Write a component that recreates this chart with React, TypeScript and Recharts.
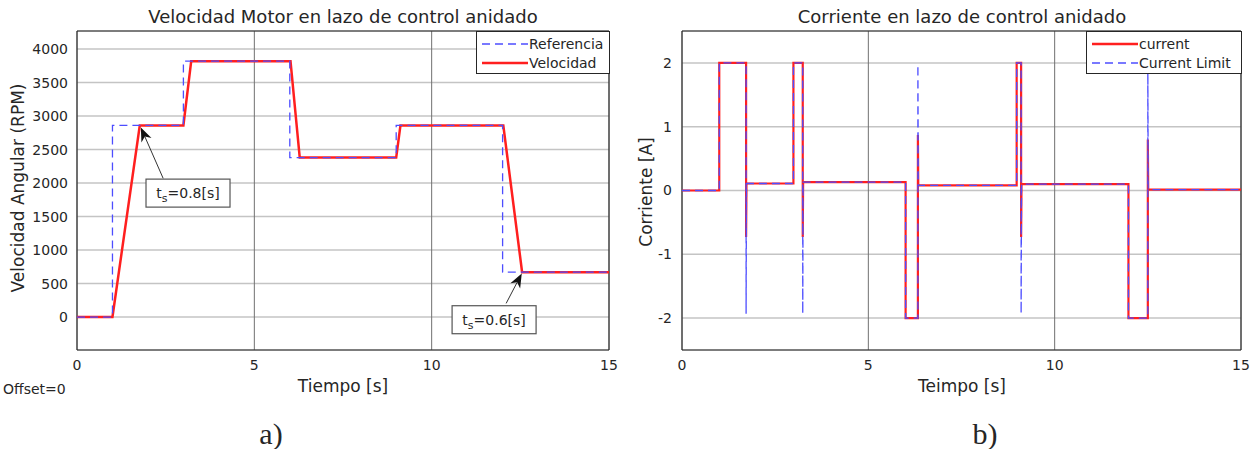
import {
  LineChart, Line, XAxis, YAxis, CartesianGrid, ReferenceArea, ReferenceLine, ReferenceDot,
} from 'recharts';

// shared time axis
const timeTicks = [0, 5, 10, 15];

// a) speed loop
const rpmTicks = [0, 500, 1000, 1500, 2000, 2500, 3000, 3500, 4000];
const refTime = [0, 1, 1, 3, 3, 6, 6, 9, 9, 12, 12, 15];
const refRpm = [0, 0, 2860, 2860, 3820, 3820, 2380, 2380, 2860, 2860, 670, 670];
const velTime = [0, 1, 1.77, 3, 3.22, 6.02, 6.28, 9, 9.12, 12.02, 12.55, 15];
const velRpm = [0, 0, 2860, 2860, 3820, 3820, 2380, 2380, 2860, 2860, 670, 670];

// b) current loop
const ampTicks = [-2, -1, 0, 1, 2];
const curTime = [
  0, 1, 1, 1.72, 1.72, 1.73, 2.99, 2.99, 3.24, 3.24, 3.25, 6, 6, 6.33, 6.33, 6.34,
  8.98, 8.98, 9.1, 9.1, 9.11, 11.98, 11.98, 12.5, 12.5, 12.51, 15,
];
const curAmp = [
  0, 0, 2, 2, -0.73, 0.11, 0.11, 2, 2, -0.73, 0.13, 0.13, -2, -2, 0.87, 0.08,
  0.08, 2, 2, -0.73, 0.1, 0.1, -2, -2, 0.8, 0.015, 0.015,
];
const limAmp = [
  0, 0, 2, 2, -1.93, 0.11, 0.11, 2, 2, -1.93, 0.13, 0.13, -2, -2, 1.97, 0.08,
  0.08, 2, 2, -1.93, 0.1, 0.1, -2, -2, 1.96, 0.015, 0.015,
];

const zip = (t: number[], v: number[]) => t.map((x, i) => ({ t: x, v: v[i] }));

const RED = '#ff1f1f';
const BLUE = '#4d4dff';
const INK = '#262626';
const FONT = '"DejaVu Sans", sans-serif';
const tickStyle = { fill: INK, fontSize: 14, fontFamily: FONT };

function Arrow(p: any) {
  const { x1, y1, x2, y2 } = p;
  const dx = x2 - x1, dy = y2 - y1;
  const len = Math.hypot(dx, dy) || 1;
  const ux = dx / len, uy = dy / len, nx = -uy, ny = ux;
  const bx = x2 - ux * 14, by = y2 - uy * 14;
  const mx = x2 - ux * 10, my = y2 - uy * 10;
  return (
    <g>
      <line x1={x1} y1={y1} x2={mx} y2={my} stroke="#333" strokeWidth={1} />
      <polygon
        points={`${x2},${y2} ${bx + nx * 5.5},${by + ny * 5.5} ${mx},${my} ${bx - nx * 5.5},${by - ny * 5.5}`}
        fill="#111"
      />
    </g>
  );
}

function NoteBox({ cx, cy, text }: { cx: number; cy: number; text: string }) {
  return (
    <g>
      <rect x={cx - 42} y={cy - 14} width={84} height={28} fill="#fff" stroke="#555" strokeWidth={1.2} />
      <text x={cx} y={cy + 5} textAnchor="middle" fontSize={14} fontFamily={FONT} fill={INK}>
        t<tspan fontSize={11} dy={4}>s</tspan><tspan dy={-4}>={text}[s]</tspan>
      </text>
    </g>
  );
}

function LegendBox({ left, width, items }: { left: number; width: number; items: { label: string; color: string; w: number; dash?: string }[] }) {
  return (
    <div style={{ position: 'absolute', left, top: 31, width, height: 43, border: `1px solid ${INK}`, background: '#fff', boxSizing: 'border-box', fontFamily: FONT, fontSize: 14, color: INK, paddingTop: 2 }}>
      {items.map((it) => (
        <div key={it.label} style={{ display: 'flex', alignItems: 'center', height: 19 }}>
          <svg width={52} height={10} style={{ flex: 'none' }}>
            <line x1={5} x2={51} y1={5} y2={5} stroke={it.color} strokeWidth={it.w} strokeDasharray={it.dash} />
          </svg>
          <span>{it.label}</span>
        </div>
      ))}
    </div>
  );
}

function Text({ x, y, size, children, rotate, family }: any) {
  return (
    <div style={{ position: 'absolute', left: x, top: y, transform: `translate(-50%,-50%)${rotate ? ' rotate(-90deg)' : ''}`, whiteSpace: 'nowrap', fontSize: size, fontFamily: family || FONT, color: INK }}>
      {children}
    </div>
  );
}

const notes = [
  { at: { x: 3.13, y: 1850 }, from: { x: 2.43, y: 2070 }, to: { x: 1.8, y: 2830 }, text: '0.8' },
  { at: { x: 11.76, y: -40 }, from: { x: 12.1, y: 204 }, to: { x: 12.54, y: 650 }, text: '0.6' },
];

export default function App() {
  const rpmDomain = [-492, 4270];
  const ampDomain = [-2.5, 2.5];
  return (
    <div style={{ position: 'absolute', left: 0, top: 0, width: 1259, height: 449, background: '#fff' }}>
      <div style={{ position: 'absolute', left: 0, top: 0 }}>
        <LineChart width={620} height={449} margin={{ top: 31, right: 11, bottom: 69, left: 0 }}>
          <CartesianGrid vertical={false} stroke="#c4c4c4" strokeWidth={1.5} />
          <CartesianGrid horizontal={false} stroke="#707070" strokeWidth={1} />
          <XAxis dataKey="t" type="number" domain={[0, 15]} ticks={timeTicks} allowDuplicatedCategory={false}
            height={30} tickSize={0} tickMargin={10} tick={tickStyle} axisLine={false} />
          <YAxis type="number" domain={rpmDomain} ticks={rpmTicks} width={77} tickSize={0} tickMargin={9}
            tick={tickStyle} axisLine={false} allowDataOverflow />
          <ReferenceArea x1={0} x2={15} y1={rpmDomain[0]} y2={rpmDomain[1]} fill="none" stroke={INK} strokeWidth={1} ifOverflow="visible" />
          <Line data={zip(velTime, velRpm)} dataKey="v" stroke={RED} strokeWidth={2.5} dot={false} isAnimationActive={false} />
          <Line data={zip(refTime, refRpm)} dataKey="v" stroke={BLUE} strokeWidth={1.3} strokeDasharray="8 5" dot={false} isAnimationActive={false} />
          {notes.map((n) => (
            <ReferenceLine key={'l' + n.text} segment={[n.from, n.to]} ifOverflow="visible" shape={(p: any) => <Arrow {...p} />} />
          ))}
          {notes.map((n) => (
            <ReferenceDot key={'d' + n.text} x={n.at.x} y={n.at.y} ifOverflow="visible"
              shape={(p: any) => <NoteBox cx={p.cx} cy={p.cy} text={n.text} />} />
          ))}
        </LineChart>
      </div>
      <div style={{ position: 'absolute', left: 630, top: 0 }}>
        <LineChart width={629} height={449} margin={{ top: 31, right: 18, bottom: 69, left: 0 }}>
          <CartesianGrid vertical={false} stroke="#c4c4c4" strokeWidth={1.5} />
          <CartesianGrid horizontal={false} stroke="#707070" strokeWidth={1} />
          <XAxis dataKey="t" type="number" domain={[0, 15]} ticks={timeTicks} allowDuplicatedCategory={false}
            height={30} tickSize={0} tickMargin={10} tick={tickStyle} axisLine={false} />
          <YAxis type="number" domain={ampDomain} ticks={ampTicks} width={52} tickSize={0} tickMargin={10}
            tick={tickStyle} axisLine={false} allowDataOverflow />
          <ReferenceArea x1={0} x2={15} y1={ampDomain[0]} y2={ampDomain[1]} fill="none" stroke={INK} strokeWidth={1} ifOverflow="visible" />
          <Line data={zip(curTime, curAmp)} dataKey="v" stroke={RED} strokeWidth={2.2} dot={false} isAnimationActive={false} />
          <Line data={zip(curTime, limAmp)} dataKey="v" stroke={BLUE} strokeWidth={1.3} strokeDasharray="8 5" dot={false} isAnimationActive={false} />
        </LineChart>
      </div>

      <LegendBox left={476} width={134} items={[
        { label: 'Referencia', color: BLUE, w: 1.5, dash: '8 5' },
        { label: 'Velocidad', color: RED, w: 2.5 },
      ]} />
      <LegendBox left={1086} width={156} items={[
        { label: 'current', color: RED, w: 2.5 },
        { label: 'Current Limit', color: BLUE, w: 1.5, dash: '8 5' },
      ]} />

      <Text x={343} y={16} size={18}>Velocidad Motor en lazo de control anidado</Text>
      <Text x={962} y={16} size={18}>Corriente en lazo de control anidado</Text>
      <Text x={18} y={188} size={17} rotate>Velocidad Angular (RPM)</Text>
      <Text x={646} y={192} size={17} rotate>Corriente [A]</Text>
      <Text x={343} y={386} size={17}>Tiempo [s]</Text>
      <Text x={962} y={386} size={17}>Teimpo [s]</Text>
      <div style={{ position: 'absolute', left: 3, top: 381, fontSize: 14, fontFamily: FONT, color: INK }}>Offset=0</div>
      <Text x={271} y={434} size={30} family='"Liberation Serif", serif'>a)</Text>
      <Text x={985} y={434} size={30} family='"Liberation Serif", serif'>b)</Text>
    </div>
  );
}
